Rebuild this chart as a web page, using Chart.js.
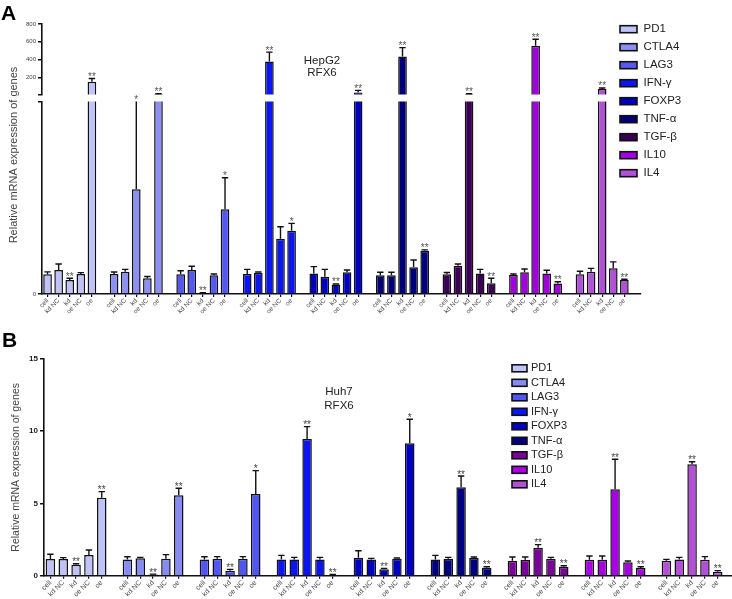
<!DOCTYPE html>
<html>
<head>
<meta charset="utf-8">
<script src="https://cdn.jsdelivr.net/npm/chart.js@4.4.1/dist/chart.umd.min.js"></script>
<style>
html,body{margin:0;padding:0;background:#fff;overflow:hidden;width:732px;height:599px;position:relative;}
canvas{position:absolute;left:0;}
</style>
</head>
<body>
<canvas id="aLow" width="732" height="320" style="top:0px"></canvas>
<canvas id="aUp" width="732" height="100" style="top:0px"></canvas>
<canvas id="bChart" width="738" height="279" style="top:320px"></canvas>
<script>
// ---------- DATA ----------
const genes = ['PD1', 'CTLA4', 'LAG3', 'IFN-γ', 'FOXP3', 'TNF-α', 'TGF-β', 'IL10', 'IL4'];
const conditions = ['cell', 'kd NC', 'kd', 'oe NC', 'oe'];

const hepg2Colors = ['#bfc3f9', '#8c90f2', '#5558ef', '#0b16f0', '#0000bf', '#00007c', '#3b0055', '#a300e0', '#b052d8'];
const huh7Colors  = ['#bfc3f9', '#878cf4', '#5055f4', '#0a14f4', '#0000c6', '#000082', '#78029a', '#aa00e6', '#b450d7'];

// Panel A (HepG2, RFX6): mean and upward error per gene x condition
const hepg2Means = [
  [1.02, 1.25, 0.73, 1.04, 152],
  [1.04, 1.16, 5.44, 0.82, 12],
  [1.02, 1.25, 0.05, 0.97, 4.4],
  [1.04, 1.10, 379, 2.87, 3.29],
  [1.07, 0.90, 0.50, 1.13, 32],
  [0.97, 0.97, 435, 1.39, 2.25],
  [1.02, 1.47, 12, 1.07, 0.56],
  [0.99, 1.13, 557, 1.07, 0.54],
  [1.02, 1.16, 70, 1.34, 0.73]
];
const hepg2Errors = [
  [0.13, 0.31, 0.09, 0.07, 37],
  [0.10, 0.12, 4.6, 0.09, 5],
  [0.19, 0.19, 0.02, 0.07, 1.64],
  [0.24, 0.04, 105, 0.62, 0.38],
  [0.35, 0.38, 0.02, 0.12, 23],
  [0.16, 0.16, 100, 0.38, 0.04],
  [0.10, 0.09, 5, 0.21, 0.26],
  [0.05, 0.17, 72, 0.16, 0.10],
  [0.16, 0.17, 12, 0.33, 0.04]
];
const hepg2Sig = [
  ['', '', '**', '', '**'],
  ['', '', '*', '', '**'],
  ['', '', '**', '', '*'],
  ['', '', '**', '', '*'],
  ['', '', '**', '', '**'],
  ['', '', '**', '', '**'],
  ['', '', '**', '', '**'],
  ['', '', '**', '', '**'],
  ['', '', '**', '', '**']
];

// Panel B (Huh7, RFX6)
const huh7Means = [
  [1.16, 1.16, 0.76, 1.43, 5.40],
  [1.13, 1.20, 0.08, 1.18, 5.57],
  [1.13, 1.18, 0.35, 1.18, 5.66],
  [1.13, 1.13, 9.47, 1.13, 0.05],
  [1.25, 1.13, 0.44, 1.18, 9.17],
  [1.13, 1.18, 6.12, 1.22, 0.55],
  [1.04, 1.11, 1.94, 1.18, 0.62],
  [1.11, 1.11, 5.98, 0.93, 0.53],
  [1.04, 1.13, 7.71, 1.11, 0.28]
];
const huh7Errors = [
  [0.32, 0.09, 0.07, 0.35, 0.42],
  [0.18, 0.07, 0.03, 0.28, 0.48],
  [0.18, 0.14, 0.09, 0.14, 1.61],
  [0.28, 0.14, 0.85, 0.14, 0.03],
  [0.48, 0.07, 0.07, 0.05, 1.66],
  [0.28, 0.09, 0.78, 0.07, 0.07],
  [0.25, 0.18, 0.21, 0.09, 0.07],
  [0.25, 0.25, 2.08, 0.09, 0.09],
  [0.09, 0.14, 0.18, 0.21, 0.07]
];
const huh7Sig = [
  ['', '', '**', '', '**'],
  ['', '', '**', '', '**'],
  ['', '', '**', '', '*'],
  ['', '', '**', '', '**'],
  ['', '', '**', '', '*'],
  ['', '', '**', '', '**'],
  ['', '', '**', '', '**'],
  ['', '', '**', '', '**'],
  ['', '', '**', '', '**']
];

// Tick labels / axis ranges
const hepg2BreakValue = 10;
const hepg2UpperMax = 800;
const hepg2UpperTicks = [10, 200, 400, 600, 800];   // 10 = unlabeled break mark
const hepg2LowerTicks = [0, 10];                     // 10 = unlabeled break mark
const huh7Ticks = [0, 5, 10, 15];
const yTitle = 'Relative mRNA expression of genes';

// ---------- HELPERS ----------
const FONT = "'Liberation Sans', Arial, Helvetica, sans-serif";
const xLabels = genes.flatMap(() => [...conditions, '']);
const flatValues = m => m.flatMap(r => [...r, null]);
const barColors = cols => genes.flatMap((g, i) => [...conditions.map(() => cols[i]), 'rgba(0,0,0,0)']);

function errorBars(means, errors, sig, starColor) {
  return {
    id: 'errorBars',
    afterDatasetsDraw(chart) {
      const ctx = chart.ctx, a = chart.chartArea, y = chart.scales.y;
      const meta = chart.getDatasetMeta(0);
      ctx.save();
      meta.data.forEach((bar, i) => {
        const g = Math.floor(i / 6), c = i % 6;
        if (c === 5) return;
        const m = means[g][c], e = errors[g][c], s = sig[g][c];
        if (m < y.min || m > y.max) return;
        const topV = m + e;
        const yTop = y.getPixelForValue(Math.min(topV, y.max));
        const yBar = y.getPixelForValue(m);
        ctx.strokeStyle = '#111';
        ctx.lineWidth = 1.4;
        ctx.beginPath();
        ctx.moveTo(bar.x, yBar);
        ctx.lineTo(bar.x, yTop);
        if (topV <= y.max) {
          ctx.moveTo(bar.x - 3.2, yTop);
          ctx.lineTo(bar.x + 3.2, yTop);
        }
        ctx.stroke();
        if (s) {
          ctx.fillStyle = starColor;
          ctx.font = '10px ' + FONT;
          ctx.textAlign = 'center';
          ctx.textBaseline = 'alphabetic';
          ctx.fillText(s, bar.x, yTop + 1.5);
        }
      });
      ctx.restore();
    }
  };
}

function overlay(texts, legend) {
  return {
    id: 'overlay',
    afterDraw(chart) {
      const ctx = chart.ctx;
      ctx.save();
      texts.forEach(t => {
        ctx.save();
        ctx.font = t.font;
        ctx.fillStyle = t.color || '#222';
        ctx.textAlign = t.align || 'left';
        ctx.textBaseline = 'middle';
        ctx.translate(t.x, t.y);
        if (t.rotate) ctx.rotate(t.rotate);
        ctx.fillText(t.text, 0, 0);
        ctx.restore();
      });
      if (legend) {
        genes.forEach((lab, i) => {
          const yc = legend.y + i * legend.dy;
          ctx.fillStyle = legend.colors[i];
          ctx.fillRect(legend.x, yc - legend.h / 2, legend.w, legend.h);
          ctx.strokeStyle = '#111';
          ctx.lineWidth = 1.6;
          ctx.strokeRect(legend.x, yc - legend.h / 2, legend.w, legend.h);
          ctx.fillStyle = '#222';
          ctx.font = legend.font;
          ctx.textAlign = 'left';
          ctx.textBaseline = 'middle';
          ctx.fillText(lab, legend.textX, yc);
        });
      }
      ctx.restore();
    }
  };
}

function xScale(fontSize, height, show) {
  return {
    display: show,
    offset: true,
    grid: {
      offset: false, drawOnChartArea: false, drawTicks: true, tickLength: 3, lineWidth: 1.2,
      color: ctx => (ctx.tick && ctx.tick.label) ? '#111' : 'rgba(0,0,0,0)'
    },
    border: { color: '#111', width: 1.6 },
    ticks: { autoSkip: false, minRotation: 45, maxRotation: 45, padding: 0, color: '#444', font: { size: fontSize, family: FONT } },
    afterFit: s => { s.height = height; }
  };
}

function dataset(means, colors, barPct) {
  return {
    data: flatValues(means),
    backgroundColor: barColors(colors),
    borderColor: genes.flatMap(() => [...conditions.map(() => '#111'), 'rgba(0,0,0,0)']),
    borderWidth: 1.5,
    borderSkipped: 'start',
    barPercentage: barPct,
    categoryPercentage: 1,
    clip: 0
  };
}

const commonOpts = { responsive: false, animation: false, devicePixelRatio: 1 };
const noPlug = { legend: { display: false }, tooltip: { enabled: false } };

// ---------- PANEL A: lower segment ----------
new Chart(document.getElementById('aLow'), {
  type: 'bar',
  data: { labels: xLabels, datasets: [dataset(hepg2Means, hepg2Colors, 0.78)] },
  options: Object.assign({}, commonOpts, {
    layout: { padding: { left: 0, right: 91, top: 101.5, bottom: 0 } },
    plugins: noPlug,
    scales: {
      x: xScale(6.5, 26, true),
      y: {
        min: 0, max: hepg2BreakValue,
        afterBuildTicks: s => { s.ticks = hepg2LowerTicks.map(v => ({ value: v })); },
        ticks: { callback: v => (v === 0 ? '0' : ''), color: '#444', padding: 2, font: { size: 6, family: FONT } },
        grid: { drawOnChartArea: false, tickLength: 4, color: '#111', lineWidth: 1.5 },
        border: { color: '#111', width: 1.6 },
        afterFit: s => { s.width = 42; }
      }
    }
  }),
  plugins: [
    errorBars(hepg2Means, hepg2Errors, hepg2Sig, '#555'),
    overlay([
      { text: 'A', x: 1, y: 14, font: 'bold 21px ' + FONT, color: '#000' },
      { text: 'HepG2', x: 322, y: 60.5, font: '11.5px ' + FONT, align: 'center' },
      { text: 'RFX6', x: 322, y: 72.5, font: '11.5px ' + FONT, align: 'center' },
      { text: yTitle, x: 14, y: 155, font: '11px ' + FONT, color: '#444', align: 'center', rotate: -Math.PI / 2 }
    ], { x: 620, y: 29.2, dy: 18, w: 17, h: 7, textX: 643.5, font: '11.5px ' + FONT, colors: hepg2Colors })
  ]
});

// ---------- PANEL A: upper segment ----------
new Chart(document.getElementById('aUp'), {
  type: 'bar',
  data: { labels: xLabels, datasets: [dataset(hepg2Means, hepg2Colors, 0.78)] },
  options: Object.assign({}, commonOpts, {
    layout: { padding: { left: 0, right: 91, top: 24, bottom: 5.3 } },
    plugins: noPlug,
    scales: {
      x: xScale(6.5, 0, false),
      y: {
        min: hepg2BreakValue, max: hepg2UpperMax,
        afterBuildTicks: s => { s.ticks = hepg2UpperTicks.map(v => ({ value: v })); },
        ticks: { callback: v => (v === hepg2BreakValue ? '' : String(v)), color: '#444', padding: 2, font: { size: 6, family: FONT } },
        grid: { drawOnChartArea: false, tickLength: 4, color: '#111', lineWidth: 1.5 },
        border: { color: '#111', width: 1.6 },
        afterFit: s => { s.width = 42; }
      }
    }
  }),
  plugins: [errorBars(hepg2Means, hepg2Errors, hepg2Sig, '#555')]
});

// ---------- PANEL B ----------
new Chart(document.getElementById('bChart'), {
  type: 'bar',
  data: { labels: xLabels, datasets: [dataset(huh7Means, huh7Colors, 0.74)] },
  options: Object.assign({}, commonOpts, {
    layout: { padding: { left: 0, right: 1, top: 39, bottom: 0 } },
    plugins: noPlug,
    scales: {
      x: xScale(7, 23.3, true),
      y: {
        min: 0, max: 15,
        afterBuildTicks: s => { s.ticks = huh7Ticks.map(v => ({ value: v })); },
        ticks: { color: '#222', padding: 2, font: { size: 8, weight: 'bold', family: FONT } },
        grid: { drawOnChartArea: false, tickLength: 4, color: '#111', lineWidth: 1.5 },
        border: { color: '#111', width: 1.6 },
        title: { display: true, text: yTitle, color: '#444', padding: { top: 10, bottom: 0 }, font: { size: 10.5, family: FONT } },
        afterFit: s => { s.width = 44; }
      }
    }
  }),
  plugins: [
    errorBars(huh7Means, huh7Errors, huh7Sig, '#444'),
    overlay([
      { text: 'B', x: 2, y: 21.5, font: 'bold 21px ' + FONT, color: '#000' },
      { text: 'Huh7', x: 339, y: 72, font: '11.5px ' + FONT, align: 'center' },
      { text: 'RFX6', x: 339, y: 85.5, font: '11.5px ' + FONT, align: 'center' }
    ], { x: 512, y: 48.3, dy: 14.5, w: 15, h: 7, textX: 531, font: '11px ' + FONT, colors: huh7Colors })
  ]
});
</script>
</body>
</html>
